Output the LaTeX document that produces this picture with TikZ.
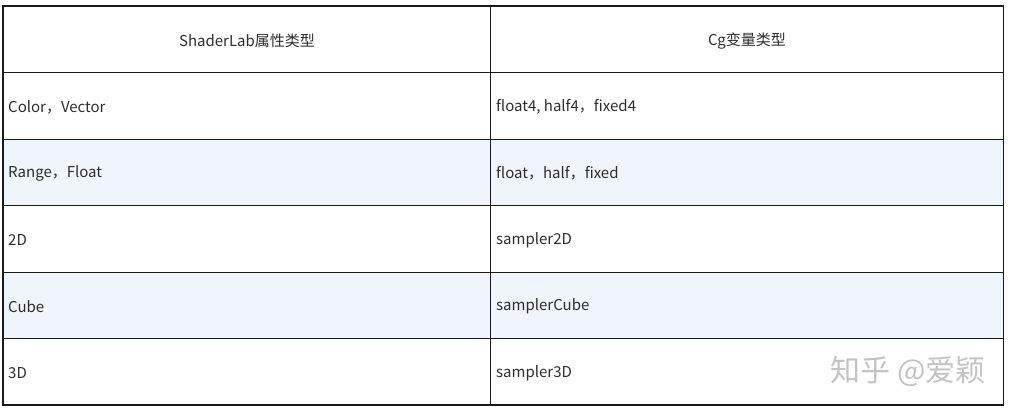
\documentclass[tikz,border=0pt]{standalone}
\usepackage{fontspec}
\setmainfont{Noto Sans CJK SC}
\usepackage{xcolor}
\usetikzlibrary{positioning}
\definecolor{stripe}{RGB}{240,245,251}
\definecolor{celltext}{RGB}{45,45,45}
\definecolor{mark}{RGB}{195,195,195}

\begin{document}
\begin{tikzpicture}[x=1pt, y=-1pt,
    cell/.style={anchor=west, inner sep=0pt, text=celltext, font=\fontsize{15}{17}\selectfont},
    head/.style={inner sep=0pt, text=celltext, font=\fontsize{15}{17}\selectfont},
    rule/.style={line width=0.9pt, draw=black!90}]
    \useasboundingbox (0, 0) rectangle (1011, 411);
    % striped rows
    \fill[stripe] (3, 139) rectangle (1003.5, 205.5);
    \fill[stripe] (3, 272) rectangle (1003.5, 338.5);
    % grid
    \draw[rule]
    (3, 72.5) -- (1003.5, 72.5)
    (3, 139) -- (1003.5, 139)
    (3, 205.5) -- (1003.5, 205.5)
    (3, 272) -- (1003.5, 272)
    (3, 338.5) -- (1003.5, 338.5)
    (490, 6) -- (490, 405);
    \draw[rule, line width=1.3pt] (3, 6) rectangle (1003.5, 405);
    % header
    \node[head] (hleft) at (247, 41) {ShaderLab属性类型};
    \node[head] (hright) at (747, 41) {Cg变量类型};
    % body
    \node[cell] (color) at (8, 107) {Color，Vector};
    \node[cell] (range) at (8, 173.5) {Range，Float};
    \node[cell] (tex2d) at (8, 240) {2D};
    \node[cell] (cube) at (8, 306.5) {Cube};
    \node[cell] (tex3d) at (8, 373) {3D};
    \node[cell] (float4) at (496, 107) {float4, half4，fixed4};
    \node[cell] (float) at (496, 173.5) {float，half，fixed};
    \node[cell] (s2d) at (496, 240) {sampler2D};
    \node[cell] (scube) at (496, 306.5) {samplerCube};
    \node[cell] (s3d) at (496, 373) {sampler3D};
    % watermark
    \node[anchor=east, inner sep=0pt, text=mark, font=\fontsize{30}{33}\selectfont] (zhihu) at (986, 371) {知乎 @爱颖};
\end{tikzpicture}
\end{document}
